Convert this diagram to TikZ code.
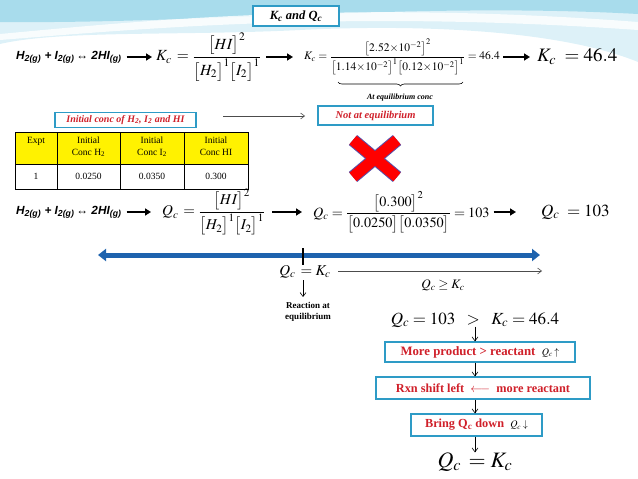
\documentclass[tikz,border=0pt]{standalone}
\usepackage{amsmath}
\usepackage{mathptmx}
\usepackage{fontspec}
\setmainfont{Liberation Serif}
\newfontfamily\arialf{Liberation Sans}
\usetikzlibrary{arrows.meta,decorations.pathreplacing,calc}
\definecolor{boxblue}{HTML}{2E9BC6}
\definecolor{redt}{HTML}{D0202A}
\definecolor{barblue}{HTML}{1E63AE}
\definecolor{bgone}{HTML}{DDF1F8}
\definecolor{bgtwo}{HTML}{A8DCEC}
\definecolor{xblue}{HTML}{5A4FA8}
\newcommand{\tx}{{\times}}
\tikzset{
  cbox/.style={draw=boxblue, line width=1.3pt, fill=white, inner sep=2pt},
  redtext/.style={text=redt},
  rx/.style={font=\arialf\bfseries\itshape\fontsize{11.8}{13}\selectfont, inner sep=2pt},
  bigarr/.style={-{Triangle[length=6pt,width=7pt]}, line width=1.8pt},
  thinarr/.style={-{Straight Barb[length=4pt,width=6pt]}, line width=0.6pt, draw=black!70},
  dnarr/.style={-{Straight Barb[length=4pt,width=6pt]}, line width=0.6pt},
  tabtxt/.style={font=\fontsize{9.5}{11.5}\selectfont, align=center, inner sep=0pt},
}
\begin{document}
\begin{tikzpicture}[x=1pt,y=-1pt]
\useasboundingbox (0,0) rectangle (638,479);
% background swoosh
\fill[bgone] (0,0) -- (638,0) -- (638,62) .. controls (560,30) and (420,24) .. (300,30) .. controls (180,36) and (60,30) .. (0,44) -- cycle;
\fill[bgtwo] (0,0) -- (638,0) -- (638,14) .. controls (420,2) and (200,24) .. (0,22) -- cycle;
\fill[white, opacity=0.8] (0,34) .. controls (150,20) and (350,0) .. (638,22) -- (638,30) .. controls (350,10) and (150,28) .. (0,40) -- cycle;

% title
\node[cbox, minimum width=86pt, minimum height=20pt, font=\bfseries\itshape\fontsize{12.5}{14}\selectfont] (title) at (296,16) {K\textsubscript{c} and Q\textsubscript{c}};

% line 1
\node[rx, anchor=west] (r1) at (14,57) {H\textsubscript{2(g)} + I\textsubscript{2(g)}\,↔ 2HI\textsubscript{(g)}};
\node[anchor=west, font=\fontsize{15.5}{18}\selectfont, inner sep=1pt] (k1) at (155,57) {$K_c\,=\dfrac{\bigl[HI\bigr]^2}{\bigl[H_2\bigr]^1\bigl[I_2\bigr]^1}$};
\node[anchor=west, font=\fontsize{11.5}{14}\selectfont, inner sep=1pt] (k2) at (303,57) {$K_c=\dfrac{\bigl[2.52\tx10^{-2}\bigr]^2}{\bigl[1.14\tx10^{-2}\bigr]^1\bigl[0.12\tx10^{-2}\bigr]^1}=46.4$};
\node[anchor=west, font=\fontsize{19}{22}\selectfont, inner sep=1pt] (k3) at (536,57) {$K_c\;=46.4$};
\draw[bigarr] ([xshift=3pt]r1.east) -- ([xshift=-3pt]k1.west);
\draw[bigarr] ([xshift=4pt]k1.east) -- ([xshift=-10pt]k2.west);
\draw[bigarr] ([xshift=2pt]k2.east) -- ([xshift=-6pt]k3.west);
\coordinate (bl) at (338,82);
\coordinate (br) at (463,82);
\draw[decorate, decoration={brace, mirror, amplitude=4pt}, line width=0.6pt] (bl) -- (br);
\node[font=\bfseries\itshape\fontsize{8}{9}\selectfont] (lab) at (400,98) {At equilibrium conc};

% initial conc box and arrow
\node[cbox, minimum width=141pt, minimum height=15pt, redtext, font=\bfseries\itshape\fontsize{10}{11}\selectfont] (init) at (125.5,120) {Initial conc of H\textsubscript{2}, I\textsubscript{2} and HI};
\node[cbox, minimum width=115pt, minimum height=19pt, redtext, font=\bfseries\itshape\fontsize{10.5}{11}\selectfont] (notq) at (375.5,115.5) {Not at equilibrium};
\coordinate (ia) at (223,116);
\coordinate (ib) at (305,116);
\draw[thinarr] (ia) -- (ib);

% table
\fill[yellow] (15,132) rectangle (248,164);
\draw[line width=0.8pt] (15,132) rectangle (248,189);
\draw[line width=0.8pt] (15,164) -- (248,164);
\draw[line width=0.8pt] (57,132) -- (57,189) (120,132) -- (120,189) (184,132) -- (184,189);
\node[tabtxt, anchor=north] (h1) at (36,137) {Expt};
\node[tabtxt, anchor=north] (h2) at (88.5,137) {Initial\\Conc H\textsubscript{2}};
\node[tabtxt, anchor=north] (h3) at (152,137) {Initial\\Conc I\textsubscript{2}};
\node[tabtxt, anchor=north] (h4) at (216,137) {Initial\\Conc HI};
\node[tabtxt] (d1) at (36,176.5) {1};
\node[tabtxt] (d2) at (88.5,176.5) {0.0250};
\node[tabtxt] (d3) at (152,176.5) {0.0350};
\node[tabtxt] (d4) at (216,176.5) {0.300};

% red cross
\draw[xblue, line width=13pt] (353,140) -- (397,177) (397,140) -- (353,177);
\draw[red, line width=11pt] (353,140) -- (397,177) (397,140) -- (353,177);

% line 2
\node[rx, anchor=west] (r2) at (14,212) {H\textsubscript{2(g)} + I\textsubscript{2(g)}\,↔ 2HI\textsubscript{(g)}};
\node[anchor=west, font=\fontsize{15}{18}\selectfont, inner sep=1pt] (q1) at (161,212) {$Q_c\,=\dfrac{\bigl[HI\bigr]^2}{\bigl[H_2\bigr]^1\bigl[I_2\bigr]^1}$};
\node[anchor=west, font=\fontsize{14.2}{17}\selectfont, inner sep=1pt] (q2) at (312,212) {$Q_c=\dfrac{\bigl[0.300\bigr]^2}{\bigl[0.0250\bigr]\bigl[0.0350\bigr]}=103$};
\node[anchor=west, font=\fontsize{17}{20}\selectfont, inner sep=1pt] (q3) at (540,212) {$Q_c\;=103$};
\draw[bigarr] ([xshift=3pt]r2.east) -- ([xshift=-10pt]q1.west);
\draw[bigarr] ([xshift=6pt]q1.east) -- ([xshift=-10pt]q2.west);
\draw[bigarr] ([xshift=3pt]q2.east) -- ([xshift=-24pt]q3.west);

% number line
\coordinate (nl) at (98,255);
\coordinate (nr) at (540,255);
\draw[barblue, line width=5pt, {Triangle[length=8pt,width=12pt]}-{Triangle[length=8pt,width=12pt]}] (nl) -- (nr);
\coordinate (tt) at (303,248);
\coordinate (tb) at (303,265);
\draw[line width=1.6pt] (tt) -- (tb);

\node[font=\fontsize{15}{18}\selectfont, inner sep=1pt] (eq) at (305,272) {$Q_c\,=K_c$};
\coordinate (ga) at (338,271);
\coordinate (gb) at (542,271);
\draw[thinarr] (ga) -- (gb);
\node[font=\fontsize{13}{15}\selectfont] (geq) at (443,285) {$Q_c \ge K_c$};

\node[fill=white, align=center, font=\bfseries\fontsize{9}{10.5}\selectfont, inner sep=3pt] (reac) at (308,312) {Reaction at\\equilibrium};
\draw[dnarr] (303,280) -- (303,297);

% comparison
\node[font=\fontsize{17}{20}\selectfont, inner sep=1pt] (comp) at (475,320) {$Q_c=103\;\;\;\mathbf{>}\;\;\;K_c=46.4$};
\coordinate (cx) at (475,462);
\node[cbox, minimum width=190pt, minimum height=20pt, redtext, font=\bfseries\fontsize{12.8}{14}\selectfont] (b1) at (480,352) {More product > reactant \ {\color{black}\fontsize{10}{11}\selectfont$Q_c$\,$\uparrow$}};
\node[cbox, minimum width=214pt, minimum height=22pt, redtext, font=\bfseries\fontsize{12.3}{14}\selectfont] (b2) at (483,388) {Rxn shift left \ $\longleftarrow$ \ more reactant};
\node[cbox, minimum width=131pt, minimum height=22pt, redtext, font=\bfseries\fontsize{12.3}{14}\selectfont] (b3) at (476.5,425) {Bring Q\textsubscript{c} down \ {\color{black}\fontsize{10}{11}\selectfont$Q_c$\,$\downarrow$}};
\node[font=\fontsize{22}{26}\selectfont, inner sep=1pt] (fin) at (475,462) {$Q_c\,=K_c$};
\draw[dnarr] ([yshift=2pt]comp.south -| cx) -- (b1.north -| cx);
\draw[dnarr] (b1.south -| cx) -- (b2.north -| cx);
\draw[dnarr] (b2.south -| cx) -- (b3.north -| cx);
\draw[dnarr] (b3.south -| cx) -- ([yshift=-1pt]fin.north -| cx);
\end{tikzpicture}
\end{document}
